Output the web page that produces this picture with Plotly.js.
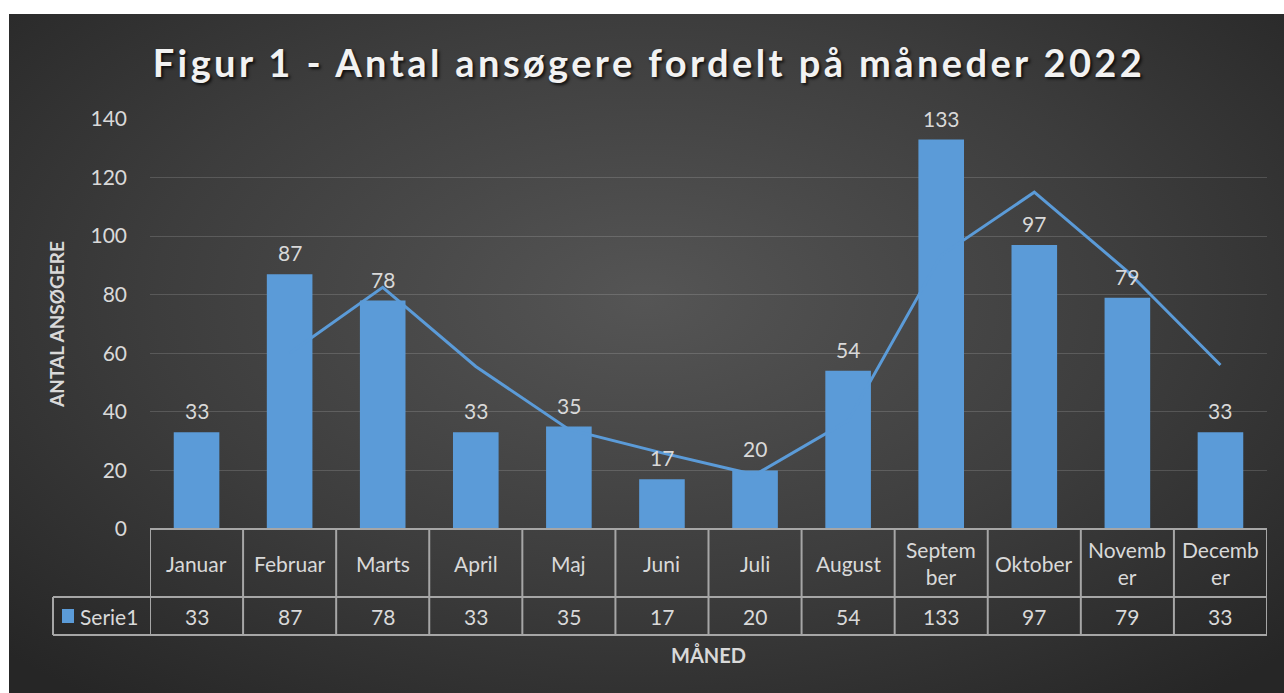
<!DOCTYPE html>
<html>
<head>
<meta charset="utf-8">
<script src="https://cdn.plot.ly/plotly-3.0.1.min.js"></script>
<style>
  html, body { margin: 0; padding: 0; background: #ffffff; width: 1284px; height: 693px; overflow: hidden; }
  #bg { position: absolute; left: 9px; top: 14px; width: 1275px; height: 679px;
        background: radial-gradient(ellipse 70% 75% at 50% 42%, #555555 0%, #3d3d3d 55%, #262626 100%); }
  #chart { position: absolute; left: 0; top: 0; width: 1284px; height: 693px; }
  .gtitle { letter-spacing: 3.4px; }
</style>
</head>
<body>
<div id="bg"></div>
<div id="chart"></div>
<script>
// ---- data ----
const months = ["Januar", "Februar", "Marts", "April", "Maj", "Juni", "Juli", "August", "September", "Oktober", "November", "December"];
const monthLabels = ["Januar", "Februar", "Marts", "April", "Maj", "Juni", "Juli", "August", "Septem<br>ber", "Oktober", "Novemb<br>er", "Decemb<br>er"];
const serie1 = [33, 87, 78, 33, 35, 17, 20, 54, 133, 97, 79, 33];
// trend line (2-period moving average)
const trend = [null, 60, 82.5, 55.5, 34, 26, 18.5, 37, 93.5, 115, 88, 56];
const seriesName = "Serie1";
const yTicks = [0, 20, 40, 60, 80, 100, 120, 140];

// ---- styling ----
const blue = "#5b9bd8";
const textCol = "#d9d9d9";
const lineCol = "#a6a6a6";
const fontFam = "Lato, 'Open Sans', sans-serif";

const xIdx = months.map((_, i) => i);

// plot area: x 150..1267, y 119..529 (page px)
const plotTop = 119, plotBot = 529, plotH = plotBot - plotTop;
const py = p => (plotBot - p) / plotH;           // page y -> paper y
const plotL = 150, plotR = 1267, plotW = plotR - plotL;
const px = p => (p - plotL) / plotW;             // page x -> paper x

const rowDiv = py(597), tableBot = py(635);

const shapes = [];
shapes.push({type: "line", xref: "x", yref: "paper", x0: -0.5, x1: 11.5, y0: 0, y1: 0, line: {color: lineCol, width: 2}});
shapes.push({type: "line", xref: "paper", yref: "paper", x0: px(53), x1: 1, y0: rowDiv, y1: rowDiv, line: {color: lineCol, width: 2}});
shapes.push({type: "line", xref: "paper", yref: "paper", x0: px(53), x1: 1, y0: tableBot, y1: tableBot, line: {color: lineCol, width: 2}});
for (let i = 0; i <= months.length; i++) {
  shapes.push({type: "line", xref: "x", yref: "paper", x0: i - 0.5, x1: i - 0.5, y0: 0, y1: tableBot, line: {color: lineCol, width: 2}});
}
shapes.push({type: "line", xref: "paper", yref: "paper", x0: px(53), x1: px(53), y0: rowDiv, y1: tableBot, line: {color: lineCol, width: 2}});
shapes.push({type: "rect", xref: "paper", yref: "paper", x0: px(62), x1: px(74), y0: py(623), y1: py(609), fillcolor: blue, line: {width: 0}});

const annotations = [];
serie1.forEach((v, i) => {
  annotations.push({x: i, y: v, xref: "x", yref: "y", text: String(v), showarrow: false,
    yanchor: "bottom", yshift: 7, font: {family: fontFam, size: 21, color: textCol}});
});
monthLabels.forEach((m, i) => {
  annotations.push({x: i, y: py(563), xref: "x", yref: "paper", text: m, showarrow: false,
    yanchor: "middle", font: {family: fontFam, size: 21, color: textCol}});
});
serie1.forEach((v, i) => {
  annotations.push({x: i, y: py(616), xref: "x", yref: "paper", text: String(v), showarrow: false,
    yanchor: "middle", font: {family: fontFam, size: 21, color: textCol}});
});
annotations.push({x: px(78), y: py(616), xref: "paper", yref: "paper", text: seriesName, showarrow: false,
  xanchor: "left", yanchor: "middle", font: {family: fontFam, size: 21, color: textCol}});
annotations.push({x: 0.5, y: py(655), xref: "paper", yref: "paper", text: "<b>MÅNED</b>", showarrow: false,
  yanchor: "middle", font: {family: fontFam, size: 20, color: textCol}});

const traces = [
  {type: "bar", x: xIdx, y: serie1, name: seriesName, width: 0.49,
   marker: {color: blue, line: {width: 0}}, hoverinfo: "y"},
  {type: "scatter", mode: "lines", x: xIdx, y: trend, name: "trend",
   line: {color: blue, width: 3}, hoverinfo: "y", connectgaps: false}
];

const layout = {
  width: 1284, height: 693,
  paper_bgcolor: "rgba(0,0,0,0)", plot_bgcolor: "rgba(0,0,0,0)",
  margin: {l: plotL, r: 1284 - plotR, t: plotTop, b: 693 - plotBot, pad: 0},
  showlegend: false,
  title: {text: "Figur 1 - Antal ansøgere fordelt på måneder 2022",
    font: {family: fontFam, size: 38, color: "#f2f2f2", weight: 700, shadow: "2px 2px 3px rgba(0,0,0,0.75)"},
    x: 649 / 1284, xanchor: "center", xref: "container",
    y: 1 - 64 / 693, yanchor: "middle", yref: "container"},
  xaxis: {range: [-0.5, 11.5], showticklabels: false, showgrid: false, zeroline: false,
    showline: false, ticks: "", fixedrange: true},
  yaxis: {range: [0, 140], tickvals: yTicks, ticktext: yTicks.map(String), showgrid: true,
    gridcolor: "rgba(255,255,255,0.15)", gridwidth: 1, zeroline: false, showline: false,
    ticks: "", ticklabelstandoff: 22,
    tickfont: {family: fontFam, size: 21, color: textCol},
    title: {text: "<b>ANTAL ANSØGERE</b>", standoff: 20, font: {family: fontFam, size: 19, color: textCol}},
    fixedrange: true},
  shapes: shapes,
  annotations: annotations,
  bargap: 0.5
};

Plotly.newPlot("chart", traces, layout, {displayModeBar: false, staticPlot: true});
</script>
</body>
</html>
